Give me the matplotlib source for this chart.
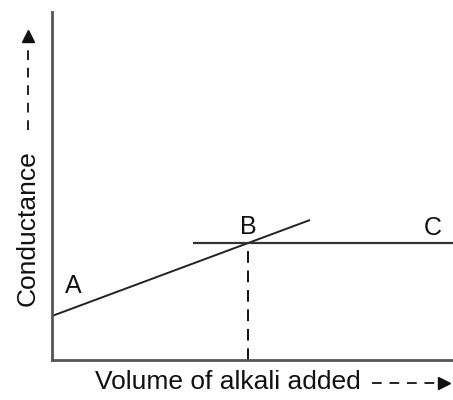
import matplotlib.pyplot as plt
from matplotlib.lines import Line2D

plt.rcParams['font.family'] = ['Liberation Sans', 'DejaVu Sans']

# segment AB (rising), segment through B to C (flat), end point vertical
ab_x = [0, 258]
ab_y = [44, 140]
bc_x = [141, 401]
bc_y = [117, 117]
eq_x = 196
labels = ['A', 'B', 'C']
label_x = [21, 196, 381]
label_y = [74, 133, 132]

fig = plt.figure(figsize=(4.53, 4.0), dpi=100)
W, H = 453, 400
ax = fig.add_axes([52 / W, 40 / H, 401 / W, 348 / H])
ax.set_xlim(0, 401)
ax.set_ylim(0, 348)

ax.plot(ab_x, ab_y, color='#222222', lw=1.4, solid_capstyle='butt')
ax.plot(bc_x, bc_y, color='#333333', lw=1.6, solid_capstyle='butt')
ax.plot([eq_x, eq_x], [0, bc_y[0]], color='#111111', lw=1.4, dashes=(6, 4))

for t, x, y in zip(labels, label_x, label_y):
    ax.text(x, y, t, fontsize=18, ha='center', va='center', color='#111111')

for s in ['top', 'right']:
    ax.spines[s].set_visible(False)
ax.spines['left'].set_color('#555555')
ax.spines['bottom'].set_color('#555555')
ax.spines['left'].set_linewidth(2)
ax.spines['bottom'].set_linewidth(2)
ax.set_xticks([])
ax.set_yticks([])

# axis titles with dashed arrows
fig.text(95 / W, 1 - 382 / H, 'Volume of alkali added', fontsize=19,
         ha='left', va='center', color='#111111')
fig.text(28 / W, 1 - 228 / H, 'Conductance', fontsize=19, rotation=90,
         ha='center', va='center', color='#111111')

fig.add_artist(Line2D([372 / W, 440 / W], [1 - 383 / H, 1 - 383 / H],
                      transform=fig.transFigure, color='#222222', lw=1.4, dashes=(5, 4)))
fig.add_artist(Line2D([444 / W], [1 - 383 / H], transform=fig.transFigure,
                      marker='>', color='#111111', markersize=9, lw=0))
fig.add_artist(Line2D([28 / W, 28 / W], [1 - 130 / H, 1 - 42 / H],
                      transform=fig.transFigure, color='#222222', lw=1.4, dashes=(5, 4)))
fig.add_artist(Line2D([28 / W], [1 - 36 / H], transform=fig.transFigure,
                      marker='^', color='#111111', markersize=9, lw=0))

fig.savefig('out.png', dpi=100)
